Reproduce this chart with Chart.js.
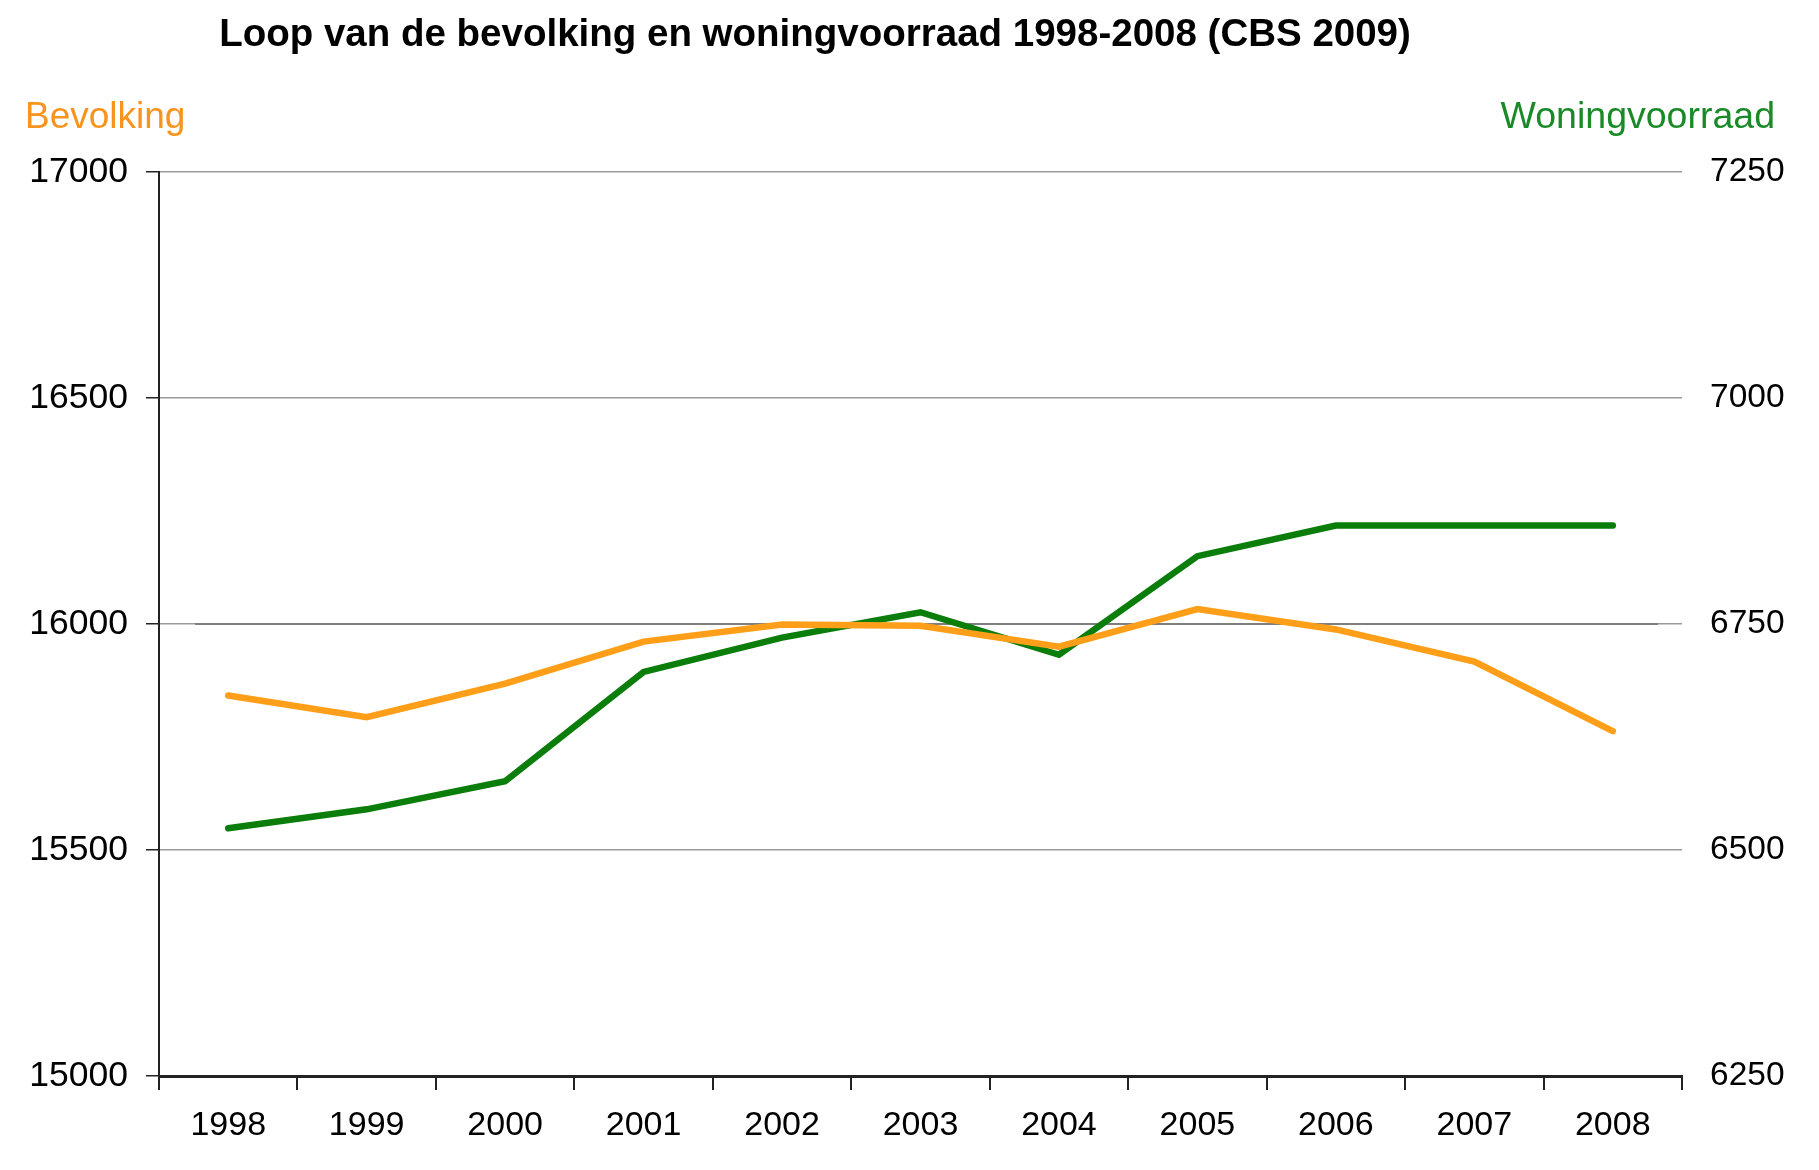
<!DOCTYPE html>
<html>
<head>
<meta charset="utf-8">
<script src="https://cdn.jsdelivr.net/npm/chart.js@4.4.1/dist/chart.umd.min.js"></script>
<style>
html,body{margin:0;padding:0;background:#fff;}
#wrap{position:relative;width:1819px;height:1170px;}
</style>
</head>
<body>
<div id="wrap"><canvas id="c" width="1819" height="1170"></canvas></div>
<script>
const titleText = 'Loop van de bevolking en woningvoorraad 1998-2008 (CBS 2009)';
const leftAxisName = 'Bevolking';
const rightAxisName = 'Woningvoorraad';
const years = ['1998','1999','2000','2001','2002','2003','2004','2005','2006','2007','2008'];
const bevolking = [15842, 15794, 15868, 15961, 15999, 15996, 15950, 16033, 15988, 15917, 15763];
const woningvoorraad = [6524, 6545, 6576, 6697, 6735, 6763, 6716, 6825, 6859, 6859, 6859];
const leftTicks = [15000, 15500, 16000, 16500, 17000];
const rightTicks = [6250, 6500, 6750, 7000, 7250];

const FONT = "'Liberation Sans', Arial, sans-serif";
const ORANGE = '#FF9E18';
const GREEN = '#0A7D0A';

const headerPlugin = {
  id: 'headers',
  beforeDatasetsDraw(chart) {
    const ctx = chart.ctx;
    const y = chart.scales.y;
    const a = chart.chartArea;
    const py = y.getPixelForValue(16000);
    ctx.save();
    ctx.strokeStyle = '#7f7f7f';
    ctx.lineWidth = 2;
    ctx.beginPath();
    ctx.moveTo(a.left + 36, py);
    ctx.lineTo(a.right - 24, py);
    ctx.stroke();
    ctx.restore();
  },
  afterDraw(chart) {
    const ctx = chart.ctx;
    ctx.save();
    ctx.textBaseline = 'middle';
    ctx.fillStyle = '#000';
    ctx.font = 'bold 38.5px ' + FONT;
    ctx.textAlign = 'center';
    ctx.fillText(titleText, 815, 35);
    ctx.font = '37px ' + FONT;
    ctx.textAlign = 'left';
    ctx.fillStyle = '#F7941D';
    ctx.fillText(leftAxisName, 25, 118);
    ctx.textAlign = 'right';
    ctx.fillStyle = '#1A8A28';
    ctx.font = '37.5px ' + FONT;
    ctx.fillText(rightAxisName, 1775, 118);
    ctx.restore();
  }
};

new Chart(document.getElementById('c'), {
  type: 'line',
  data: {
    labels: years,
    datasets: [
      {
        label: leftAxisName,
        data: bevolking,
        yAxisID: 'y',
        borderColor: ORANGE,
        backgroundColor: ORANGE,
        borderWidth: 6.5,
        pointRadius: 0,
        tension: 0,
        borderCapStyle: 'round',
        borderJoinStyle: 'miter',
        fill: false
      },
      {
        label: rightAxisName,
        data: woningvoorraad,
        yAxisID: 'y1',
        borderColor: GREEN,
        backgroundColor: GREEN,
        borderWidth: 6.5,
        pointRadius: 0,
        tension: 0,
        borderCapStyle: 'round',
        borderJoinStyle: 'miter',
        fill: false
      }
    ]
  },
  options: {
    responsive: false,
    animation: false,
    devicePixelRatio: 1,
    layout: { padding: { top: 172, left: 0, right: 0, bottom: 0 } },
    plugins: {
      legend: { display: false },
      title: { display: false },
      tooltip: { enabled: false }
    },
    scales: {
      x: {
        offset: true,
        grid: {
          offset: true,
          drawOnChartArea: false,
          drawTicks: true,
          tickLength: 14,
          tickColor: '#222',
          lineWidth: 2
        },
        border: { display: true, color: '#222', width: 3 },
        ticks: {
          color: '#000',
          font: { family: FONT, size: 34 },
          padding: 15,
          maxRotation: 0,
          autoSkip: false
        },
        afterFit(scale) { scale.height = 94; }
      },
      y: {
        position: 'left',
        min: 15000,
        max: 17000,
        afterBuildTicks(scale) { scale.ticks = leftTicks.map(v => ({ value: v })); },
        grid: {
          color: '#9a9a9a',
          lineWidth: 1.5,
          drawTicks: true,
          tickLength: 13,
          tickColor: '#222'
        },
        border: { display: true, color: '#222', width: 2 },
        ticks: {
          color: '#000',
          font: { family: FONT, size: 35.5 },
          padding: 18,
          callback: v => String(v)
        },
        afterFit(scale) { scale.width = 159; }
      },
      y1: {
        position: 'right',
        min: 6250,
        max: 7250,
        afterBuildTicks(scale) { scale.ticks = rightTicks.map(v => ({ value: v })); },
        grid: { display: false, drawTicks: false, drawOnChartArea: false },
        border: { display: false },
        ticks: {
          color: '#000',
          font: { family: FONT, size: 33.5 },
          padding: 28,
          callback: v => String(v)
        },
        afterFit(scale) { scale.width = 137; }
      }
    }
  },
  plugins: [headerPlugin]
});
</script>
</body>
</html>
